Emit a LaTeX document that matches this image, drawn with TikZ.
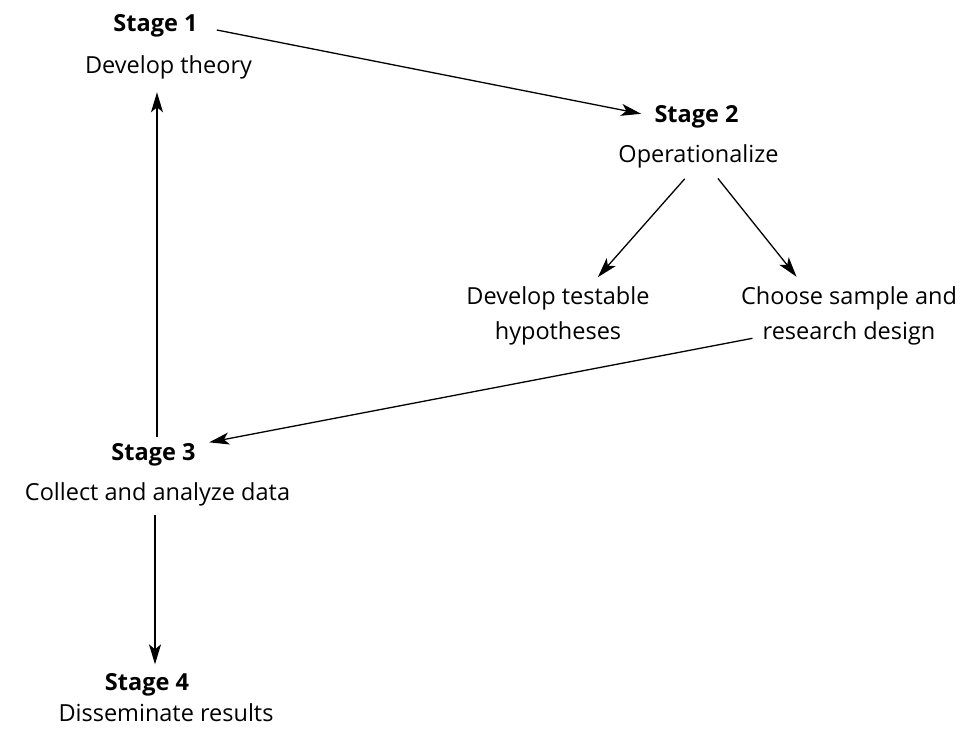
\documentclass[tikz,border=0pt]{standalone}
\usepackage{fontspec}
\setmainfont{Open Sans}
\usetikzlibrary{arrows.meta}

\begin{document}
\begin{tikzpicture}[x=1pt,y=-1pt,>={Stealth[length=20pt,width=12pt,inset=5pt]},line width=1.3pt,
  stage/.style={font=\bfseries\fontsize{23.5}{35}\selectfont,inner sep=0pt,anchor=base},
  task/.style={font=\fontsize{23.5}{35}\selectfont,inner sep=0pt,anchor=base},
  task2/.style={font=\fontsize{23.5}{35}\selectfont,inner sep=0pt,align=center}]
\useasboundingbox (0,0) rectangle (973,733);
% stage 1
\node[stage] (s1) at (155.5,32) {Stage 1};
\node[task]  (d1) at (168.5,74) {Develop theory};
% stage 2
\node[stage] (s2) at (696.5,122) {Stage 2};
\node[task]  (d2) at (698.5,162) {Operationalize};
\node[task2] (hyp) at (558,316) {Develop testable\\hypotheses};
\node[task2] (smp) at (849,316) {Choose sample and\\research design};
% stage 3
\node[stage] (s3) at (153.5,460) {Stage 3};
\node[task]  (d3) at (157.5,500) {Collect and analyze data};
% stage 4
\node[stage] (s4) at (147,690) {Stage 4};
\node[task]  (d4) at (166,721) {Disseminate results};
% arrows
\draw[->,shorten <=19pt,shorten >=13pt] (s1.east) -- (s2.west);
\draw[->,shorten <=14pt,shorten >=12pt] ([xshift=-4.5pt]d2.south) -- ([xshift=32pt]hyp.north);
\draw[->,shorten <=13pt,shorten >=12pt] ([xshift=11.3pt]d2.south) -- ([xshift=-45pt]smp.north);
\draw[->] ([shift={(12,-7.6)}]smp.south west) -- ([xshift=13pt]s3.north east);
\draw[->,shorten <=5pt,shorten >=12pt] ([xshift=3.5pt]s3.north) -- ([xshift=3.5pt]s3.north |- d1.south);
\draw[->,shorten <=9pt,shorten >=8pt] ([xshift=-2.5pt]d3.south) -- ([xshift=8pt]s4.north);
\end{tikzpicture}
\end{document}
